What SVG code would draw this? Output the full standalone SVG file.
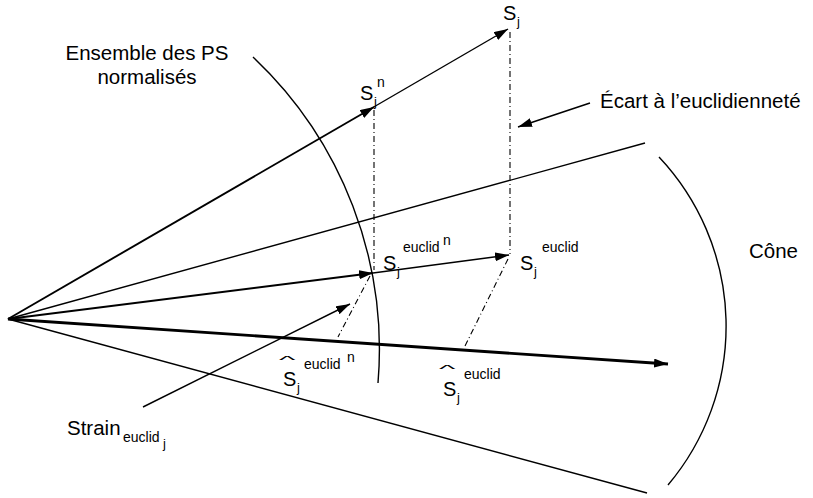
<svg xmlns="http://www.w3.org/2000/svg" width="813" height="498" viewBox="0 0 813 498">
<style>
  text { font-family: "Liberation Sans", Arial, Helvetica, sans-serif; fill: #000; }
  .lbl { font-size: 20.5px; }
  .S { font-size: 20px; }
  .sub { font-size: 13px; }
  .sup { font-size: 14px; }
  .thin { stroke: #000; stroke-width: 1.4; fill: none; }
  .med { stroke: #000; stroke-width: 1.9; fill: none; }
  .bold { stroke: #000; stroke-width: 2.8; fill: none; }
  .dd { stroke: #000; stroke-width: 1.1; fill: none; stroke-dasharray: 6 3 1 3; }
</style>
<defs>
  <marker id="ah" markerUnits="userSpaceOnUse" markerWidth="15" markerHeight="10" refX="14" refY="4.5" orient="auto">
    <path d="M0,0 L14,4.5 L0,9 z" fill="#000"/>
  </marker>
</defs>

<g id="connectors">
  <line class="med" x1="8" y1="319" x2="374" y2="107" marker-end="url(#ah)"/>
  <line class="thin" x1="372" y1="108" x2="508" y2="29" marker-end="url(#ah)"/>
  <line class="thin" x1="8" y1="319" x2="645" y2="143"/>
  <line class="med" x1="8" y1="319" x2="373" y2="273" marker-end="url(#ah)"/>
  <line class="thin" x1="373" y1="273" x2="509" y2="255" marker-end="url(#ah)"/>
  <line class="bold" x1="8" y1="319" x2="668" y2="364" marker-end="url(#ah)"/>
  <line class="thin" x1="8" y1="319" x2="647" y2="493"/>
  <line class="thin" x1="143" y1="407" x2="350" y2="304" marker-end="url(#ah)"/>
  <line class="thin" x1="590" y1="103" x2="518" y2="127" marker-end="url(#ah)"/>
  <line class="dd" x1="374" y1="110" x2="374" y2="270"/>
  <line class="dd" x1="510" y1="32" x2="510" y2="254"/>
  <line class="dd" x1="370" y1="276" x2="338" y2="337"/>
  <line class="dd" x1="508" y1="259" x2="465" y2="346"/>
</g>

<g id="ensemble-arc">
  <path class="thin" d="M253,57 A402,402 0 0 1 378,383"/>
</g>
<g id="cone-arc">
  <path class="thin" d="M659,157 A246.5,246.5 0 0 1 668,485"/>
</g>

<g id="label-ensemble">
  <text class="lbl" x="147" y="60" text-anchor="middle">Ensemble des PS</text>
  <text class="lbl" x="147" y="84" text-anchor="middle">normalisés</text>
</g>
<g id="label-ecart">
  <text class="lbl" x="600" y="108">Écart à l’euclidienneté</text>
</g>
<g id="label-cone">
  <text class="lbl" x="749" y="258">Cône</text>
</g>
<g id="label-strain">
  <text class="lbl" x="67" y="435">Strain</text>
  <text class="sup" x="123" y="442">euclid</text>
  <text class="sub" x="163" y="448">j</text>
</g>
<g id="node-Sj">
  <text class="S" x="503" y="20">S</text>
  <text class="sub" x="517" y="26">j</text>
</g>
<g id="node-Sjn">
  <text class="S" x="360" y="100">S</text>
  <text class="sub" x="374" y="106">j</text>
  <text class="sup" x="377" y="87">n</text>
</g>
<g id="node-Sj-euclid-n">
  <text class="S" x="383" y="270">S</text>
  <text class="sub" x="397" y="276">j</text>
  <text class="sup" x="403" y="252">euclid</text>
  <text class="sup" x="443" y="245">n</text>
</g>
<g id="node-Sj-euclid">
  <text class="S" x="520" y="270">S</text>
  <text class="sub" x="534" y="276">j</text>
  <text class="sup" x="542" y="252">euclid</text>
</g>
<g id="node-Shat-euclid-n">
  <text class="S" transform="translate(279,364) scale(1.75,0.55)">^</text>
  <text class="S" x="283" y="386">S</text>
  <text class="sub" x="297" y="392">j</text>
  <text class="sup" x="304" y="369">euclid</text>
  <text class="sup" x="347" y="362">n</text>
</g>
<g id="node-Shat-euclid">
  <text class="S" transform="translate(439,373) scale(1.75,0.55)">^</text>
  <text class="S" x="443" y="396">S</text>
  <text class="sub" x="457" y="402">j</text>
  <text class="sup" x="464" y="379">euclid</text>
</g>
</svg>
